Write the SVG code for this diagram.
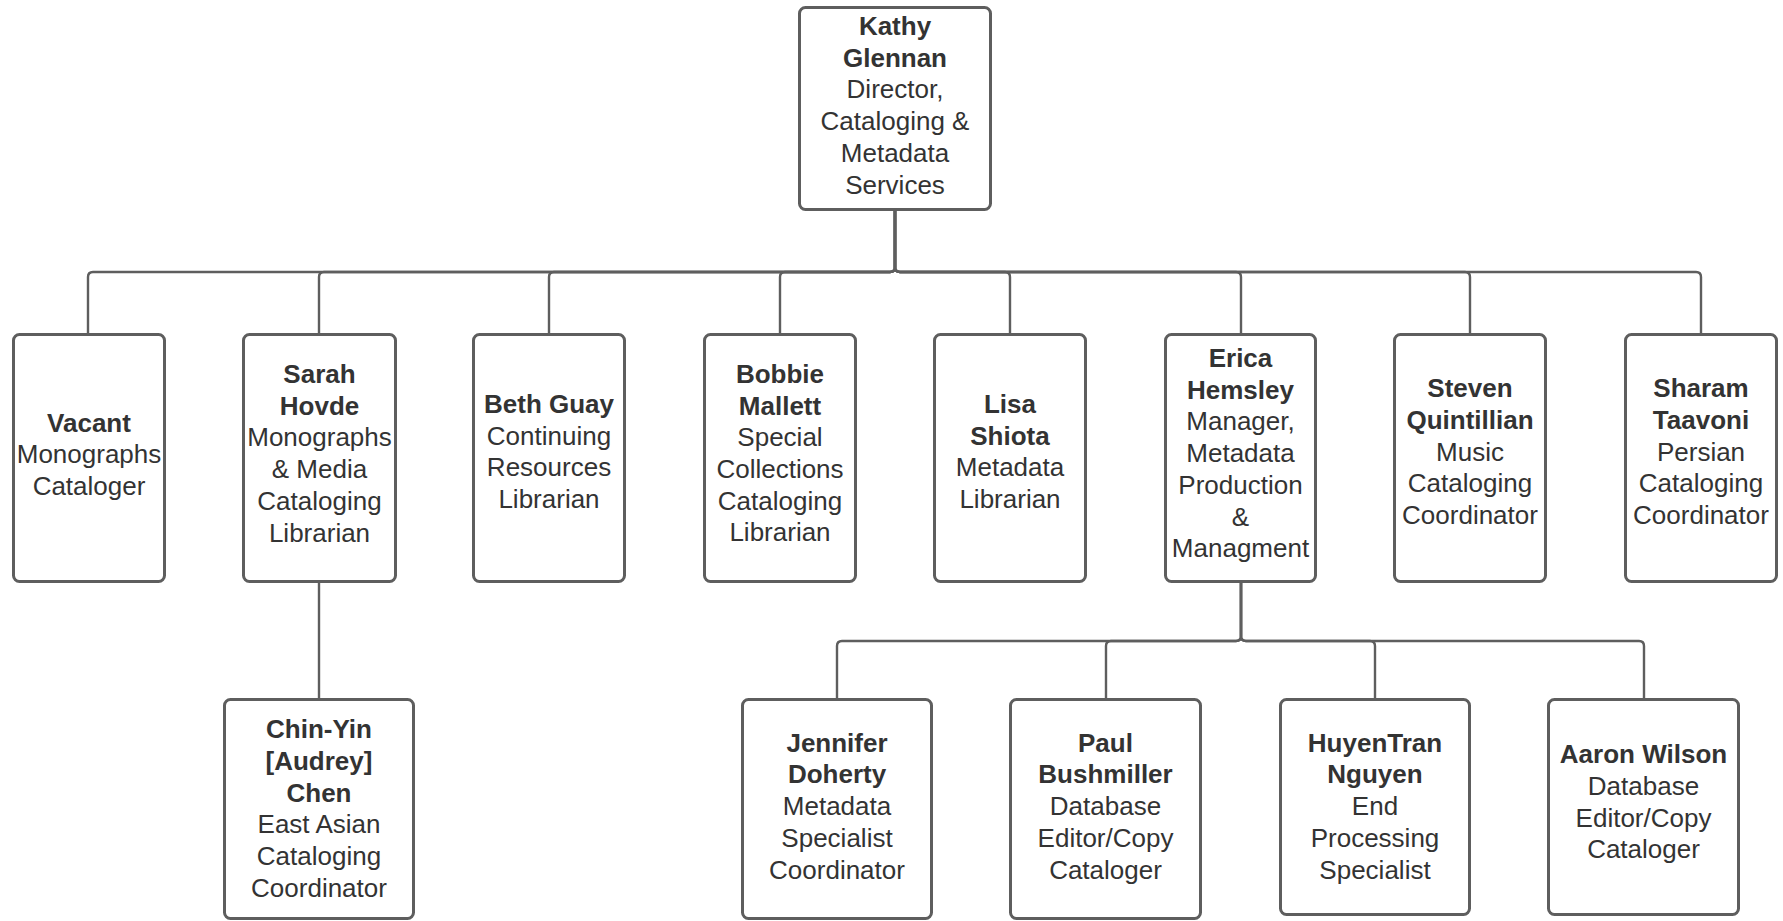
<svg xmlns="http://www.w3.org/2000/svg" width="1783" height="921" viewBox="0 0 1783 921">
<style>
.box{fill:#ffffff;stroke:#5e5e5e;stroke-width:3}
.con{fill:none;stroke:#5e5e5e;stroke-width:2.4}
text{font-family:"Liberation Sans",Arial,sans-serif;font-size:26px;fill:#333333;text-anchor:middle}
.b{font-weight:bold}
</style>
<rect width="1783" height="921" fill="#ffffff"/>
<g id="connectors">
<path class="con" d="M895,210 V267 Q895,272 890,272 H93 Q88,272 88,277 V333"/>
<path class="con" d="M895,210 V267 Q895,272 890,272 H324 Q319,272 319,277 V333"/>
<path class="con" d="M895,210 V267 Q895,272 890,272 H554 Q549,272 549,277 V333"/>
<path class="con" d="M895,210 V267 Q895,272 890,272 H785 Q780,272 780,277 V333"/>
<path class="con" d="M895,210 V267 Q895,272 900,272 H1005 Q1010,272 1010,277 V333"/>
<path class="con" d="M895,210 V267 Q895,272 900,272 H1236 Q1241,272 1241,277 V333"/>
<path class="con" d="M895,210 V267 Q895,272 900,272 H1465 Q1470,272 1470,277 V333"/>
<path class="con" d="M895,210 V267 Q895,272 900,272 H1696 Q1701,272 1701,277 V333"/>
<path class="con" d="M319,583 V698"/>
<path class="con" d="M1241,583 V636 Q1241,641 1236,641 H842 Q837,641 837,646 V698"/>
<path class="con" d="M1241,583 V636 Q1241,641 1236,641 H1111 Q1106,641 1106,646 V698"/>
<path class="con" d="M1241,583 V636 Q1241,641 1246,641 H1370 Q1375,641 1375,646 V698"/>
<path class="con" d="M1241,583 V636 Q1241,641 1246,641 H1639 Q1644,641 1644,646 V698"/>
</g>
<g id="kathy">
<rect class="box" x="799.5" y="7.5" width="191" height="202" rx="6"/>
<text x="895" y="35"><tspan class="b">Kathy</tspan><tspan class="b" x="895" dy="31.7">Glennan</tspan><tspan x="895" dy="31.7">Director,</tspan><tspan x="895" dy="31.7">Cataloging &amp;</tspan><tspan x="895" dy="31.7">Metadata</tspan><tspan x="895" dy="31.7">Services</tspan></text>
</g>
<g id="vacant">
<rect class="box" x="13.5" y="334.5" width="151" height="247" rx="6"/>
<text x="89" y="431.7"><tspan class="b">Vacant</tspan><tspan x="89" dy="31.7">Monographs</tspan><tspan x="89" dy="31.7">Cataloger</tspan></text>
</g>
<g id="sarah">
<rect class="box" x="243.5" y="334.5" width="152" height="247" rx="6"/>
<text x="319.5" y="383"><tspan class="b">Sarah</tspan><tspan class="b" x="319.5" dy="31.7">Hovde</tspan><tspan x="319.5" dy="31.7">Monographs</tspan><tspan x="319.5" dy="31.7">&amp; Media</tspan><tspan x="319.5" dy="31.7">Cataloging</tspan><tspan x="319.5" dy="31.7">Librarian</tspan></text>
</g>
<g id="beth">
<rect class="box" x="473.5" y="334.5" width="151" height="247" rx="6"/>
<text x="549" y="412.8"><tspan class="b">Beth Guay</tspan><tspan x="549" dy="31.7">Continuing</tspan><tspan x="549" dy="31.7">Resources</tspan><tspan x="549" dy="31.7">Librarian</tspan></text>
</g>
<g id="bobbie">
<rect class="box" x="704.5" y="334.5" width="151" height="247" rx="6"/>
<text x="780" y="382.8"><tspan class="b">Bobbie</tspan><tspan class="b" x="780" dy="31.7">Mallett</tspan><tspan x="780" dy="31.7">Special</tspan><tspan x="780" dy="31.7">Collections</tspan><tspan x="780" dy="31.7">Cataloging</tspan><tspan x="780" dy="31.7">Librarian</tspan></text>
</g>
<g id="lisa">
<rect class="box" x="934.5" y="334.5" width="151" height="247" rx="6"/>
<text x="1010" y="412.8"><tspan class="b">Lisa</tspan><tspan class="b" x="1010" dy="31.7">Shiota</tspan><tspan x="1010" dy="31.7">Metadata</tspan><tspan x="1010" dy="31.7">Librarian</tspan></text>
</g>
<g id="erica">
<rect class="box" x="1165.5" y="334.5" width="150" height="247" rx="6"/>
<text x="1240.5" y="367"><tspan class="b">Erica</tspan><tspan class="b" x="1240.5" dy="31.7">Hemsley</tspan><tspan x="1240.5" dy="31.7">Manager,</tspan><tspan x="1240.5" dy="31.7">Metadata</tspan><tspan x="1240.5" dy="31.7">Production</tspan><tspan x="1240.5" dy="31.7">&amp;</tspan><tspan x="1240.5" dy="31.7">Managment</tspan></text>
</g>
<g id="steven">
<rect class="box" x="1394.5" y="334.5" width="151" height="247" rx="6"/>
<text x="1470" y="397.3"><tspan class="b">Steven</tspan><tspan class="b" x="1470" dy="31.7">Quintillian</tspan><tspan x="1470" dy="31.7">Music</tspan><tspan x="1470" dy="31.7">Cataloging</tspan><tspan x="1470" dy="31.7">Coordinator</tspan></text>
</g>
<g id="sharam">
<rect class="box" x="1625.5" y="334.5" width="151" height="247" rx="6"/>
<text x="1701" y="397.3"><tspan class="b">Sharam</tspan><tspan class="b" x="1701" dy="31.7">Taavoni</tspan><tspan x="1701" dy="31.7">Persian</tspan><tspan x="1701" dy="31.7">Cataloging</tspan><tspan x="1701" dy="31.7">Coordinator</tspan></text>
</g>
<g id="chinyin">
<rect class="box" x="224.5" y="699.5" width="189" height="219" rx="6"/>
<text x="319" y="738"><tspan class="b">Chin-Yin</tspan><tspan class="b" x="319" dy="31.8">[Audrey]</tspan><tspan class="b" x="319" dy="31.8">Chen</tspan><tspan x="319" dy="31.8">East Asian</tspan><tspan x="319" dy="31.8">Cataloging</tspan><tspan x="319" dy="31.8">Coordinator</tspan></text>
</g>
<g id="jennifer">
<rect class="box" x="742.5" y="699.5" width="189" height="219" rx="6"/>
<text x="837" y="751.7"><tspan class="b">Jennifer</tspan><tspan class="b" x="837" dy="31.7">Doherty</tspan><tspan x="837" dy="31.7">Metadata</tspan><tspan x="837" dy="31.7">Specialist</tspan><tspan x="837" dy="31.7">Coordinator</tspan></text>
</g>
<g id="paul">
<rect class="box" x="1010.5" y="699.5" width="190" height="219" rx="6"/>
<text x="1105.5" y="751.7"><tspan class="b">Paul</tspan><tspan class="b" x="1105.5" dy="31.7">Bushmiller</tspan><tspan x="1105.5" dy="31.7">Database</tspan><tspan x="1105.5" dy="31.7">Editor/Copy</tspan><tspan x="1105.5" dy="31.7">Cataloger</tspan></text>
</g>
<g id="huyentran">
<rect class="box" x="1280.5" y="699.5" width="189" height="215" rx="6"/>
<text x="1375" y="751.7"><tspan class="b">HuyenTran</tspan><tspan class="b" x="1375" dy="31.7">Nguyen</tspan><tspan x="1375" dy="31.7">End</tspan><tspan x="1375" dy="31.7">Processing</tspan><tspan x="1375" dy="31.7">Specialist</tspan></text>
</g>
<g id="aaron">
<rect class="box" x="1548.5" y="699.5" width="190" height="215" rx="6"/>
<text x="1643.5" y="763.3"><tspan class="b">Aaron Wilson</tspan><tspan x="1643.5" dy="31.7">Database</tspan><tspan x="1643.5" dy="31.7">Editor/Copy</tspan><tspan x="1643.5" dy="31.7">Cataloger</tspan></text>
</g>
</svg>
